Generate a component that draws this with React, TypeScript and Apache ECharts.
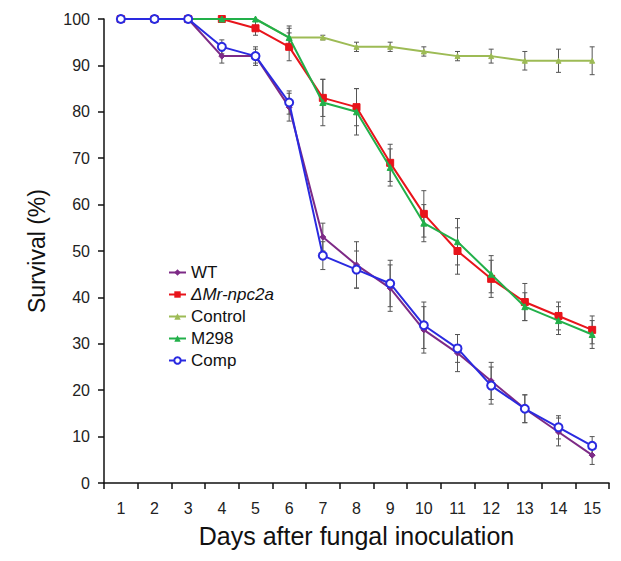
import React, { useEffect, useRef } from "react";
import * as echarts from "echarts";

const days = ["1", "2", "3", "4", "5", "6", "7", "8", "9", "10", "11", "12", "13", "14", "15"];

const wt = [100, 100, 100, 92, 92, 81, 53, 47, 42, 33, 28, 22, 16, 11, 6];
const wtErr = [0, 0, 0, 1.5, 2, 3, 3, 5, 5, 5, 4, 4, 3, 3, 2];

const mutant = [100, 100, 100, 100, 98, 94, 83, 81, 69, 58, 50, 44, 39, 36, 33];
const mutantErr = [0, 0, 0, 0, 1.5, 3, 4, 4, 4, 5, 5, 4, 4, 3, 3];

const control = [100, 100, 100, 100, 100, 96, 96, 94, 94, 93, 92, 92, 91, 91, 91];
const controlErr = [0, 0, 0, 0, 0, 2, 0.5, 1, 1, 1, 1, 1.5, 2, 2.5, 3];

const m298 = [100, 100, 100, 100, 100, 96, 82, 80, 68, 56, 52, 45, 38, 35, 32];
const m298Err = [0, 0, 0, 0, 0, 2.5, 5, 5, 4, 4, 5, 4, 3, 3, 3];

const comp = [100, 100, 100, 94, 92, 82, 49, 46, 43, 34, 29, 21, 16, 12, 8];
const compErr = [0, 0, 0, 1.5, 1.5, 2.5, 3, 4, 5, 5, 3, 4, 3, 2.5, 2];

const FONT = "Liberation Sans, Arial, sans-serif";

function errorSeries(vals: number[], errs: number[]) {
  const data = vals
    .map((v, i) => [i, v - errs[i], v + errs[i]])
    .filter((d, i) => errs[i] > 0);
  return {
    type: "custom",
    silent: true,
    z: 1,
    renderItem: (params: any, api: any) => {
      const lo = api.coord([api.value(0), api.value(1)]);
      const hi = api.coord([api.value(0), api.value(2)]);
      const w = 2.5;
      const style = { stroke: "#555", lineWidth: 1 };
      return {
        type: "group",
        children: [
          { type: "line", shape: { x1: lo[0], y1: lo[1], x2: hi[0], y2: hi[1] }, style },
          { type: "line", shape: { x1: lo[0] - w, y1: lo[1], x2: lo[0] + w, y2: lo[1] }, style },
          { type: "line", shape: { x1: hi[0] - w, y1: hi[1], x2: hi[0] + w, y2: hi[1] }, style },
        ],
      };
    },
    data,
  };
}

export default function App() {
  const ref = useRef<HTMLDivElement>(null);
  useEffect(() => {
    const chart = echarts.init(ref.current!, null, { renderer: "svg" });
    const lineBase = (name: string, data: number[], color: string, symbol: string, size: number, z: number) => ({
      type: "line",
      name,
      data,
      symbol,
      symbolSize: size,
      z,
      lineStyle: { color, width: 2 },
      itemStyle: { color, borderColor: color },
    });
    chart.setOption({
      animation: false,
      backgroundColor: "#fff",
      grid: { left: 96, right: 4, top: 11, bottom: 63 },
      legend: {
        orient: "vertical",
        left: 155,
        top: 251,
        itemGap: 5,
        itemWidth: 17,
        itemHeight: 8,
        data: ["WT", "ΔMr-npc2a", "Control", "M298", "Comp"],
        textStyle: {
          fontSize: 17,
          color: "#111",
          fontFamily: FONT,
          rich: { i: { fontStyle: "italic", fontSize: 17, color: "#111", fontFamily: FONT } },
        },
        formatter: (n: string) => (n === "ΔMr-npc2a" ? "{i|ΔMr-npc2a}" : n),
      },
      xAxis: {
        type: "category",
        data: days,
        boundaryGap: true,
        name: "Days after fungal inoculation",
        nameLocation: "middle",
        nameGap: 40,
        nameTextStyle: { fontSize: 25, color: "#111", fontFamily: FONT },
        axisLine: { lineStyle: { color: "#111", width: 1.5 } },
        axisTick: { show: true, interval: 0, length: 6, lineStyle: { color: "#111", width: 1.5 } },
        axisLabel: { fontSize: 16, color: "#222", fontFamily: FONT, margin: 17, interval: 0 },
        splitLine: { show: false },
      },
      yAxis: {
        type: "value",
        min: 0,
        max: 100,
        interval: 10,
        name: "Survival (%)",
        nameLocation: "middle",
        nameGap: 56,
        nameRotate: 90,
        nameTextStyle: { fontSize: 23, color: "#111", fontFamily: FONT },
        axisLine: { show: true, lineStyle: { color: "#111", width: 1.5 } },
        axisTick: { show: true, length: 6, lineStyle: { color: "#111", width: 1.5 } },
        axisLabel: { fontSize: 16, color: "#222", fontFamily: FONT, margin: 14 },
        splitLine: { show: false },
      },
      series: [
        errorSeries(control, controlErr),
        errorSeries(mutant, mutantErr),
        errorSeries(m298, m298Err),
        errorSeries(wt, wtErr),
        errorSeries(comp, compErr),
        lineBase("Control", control, "#9dbb55", "triangle", 5, 3),
        lineBase("ΔMr-npc2a", mutant, "#e8141b", "rect", 7, 4),
        lineBase("M298", m298, "#22b04a", "triangle", 6, 5),
        lineBase("WT", wt, "#7d2a86", "diamond", 6, 6),
        {
          ...lineBase("Comp", comp, "#2a2ae0", "circle", 8, 7),
          itemStyle: { color: "#fff", borderColor: "#2a2ae0", borderWidth: 2 },
        },
      ],
    });
    return () => chart.dispose();
  }, []);
  return <div ref={ref} style={{ width: 605, height: 545 }} />;
}
